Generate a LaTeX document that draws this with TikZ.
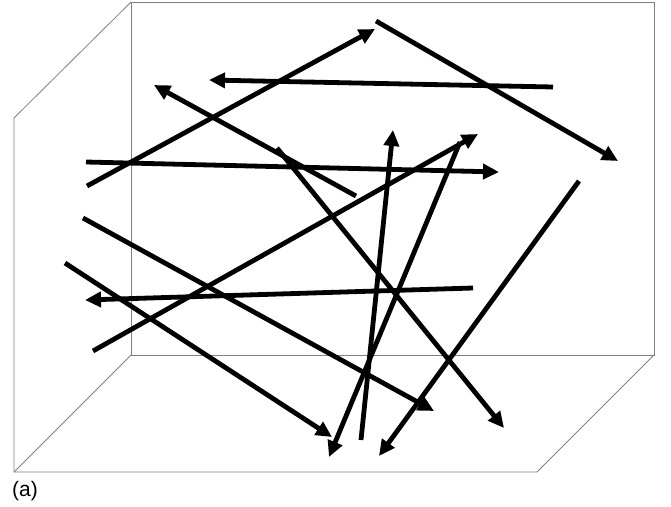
\documentclass[tikz,border=0pt]{standalone}
\usepackage{fontspec}
\setmainfont{Liberation Sans}
\usetikzlibrary{arrows.meta}

\tikzset{
    frame/.style={draw=black!50, line width=0.8pt},
    vec/.style={line width=4.8pt, -{Triangle[length=16pt,width=15pt]}}
}

\begin{document}
\begin{tikzpicture}[x=1pt, y=-1pt]
    \useasboundingbox (0,0) rectangle (671,506);

    % box
    \coordinate (bTL) at (131,2);
    \coordinate (bBR) at (654,355);
    \coordinate (bBL) at (131,355);
    \coordinate (fTL) at (14,118);
    \coordinate (fBL) at (14,472);
    \coordinate (fBR) at (537,472);
    \draw[frame] (bTL) rectangle (bBR);
    \draw[frame] (bTL) -- (fTL) -- (fBL) -- (fBR) -- (bBR);
    \draw[frame] (fBL) -- (bBL);

    % arrows: start x/y, tip x/y
    \foreach \i/\sx/\sy/\tx/\ty in {1/87/186/375/29,
                                    2/553/87/209/80,
                                    3/356/196/154/85,
                                    4/376/21/618/161,
                                    5/86/162/499/172,
                                    6/93/351/478/134,
                                    7/277/148/504/428,
                                    8/361/440/393/130,
                                    9/460/142/329/457,
                                    10/579/181/379/456,
                                    11/473/288/85/300,
                                    12/65/263/332/437,
                                    13/83/218/434/411} {
        \coordinate (s\i) at (\sx,\sy);
        \coordinate (e\i) at (\tx,\ty);
        \draw[vec] (s\i) -- (e\i);
    }

    \node[anchor=west, font=\fontsize{21}{24}\selectfont, inner sep=0pt] (lab) at (12,491) {(a)};
\end{tikzpicture}
\end{document}
